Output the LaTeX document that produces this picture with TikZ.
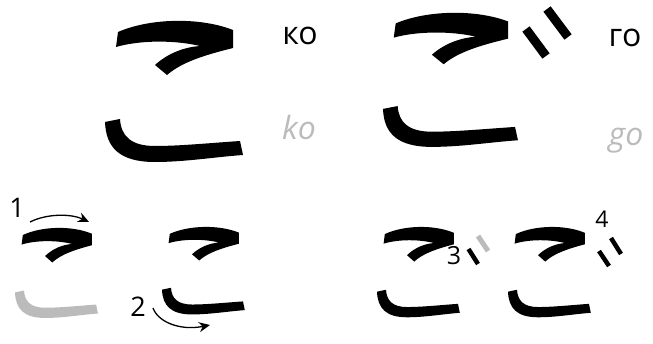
\documentclass[tikz,border=0pt]{standalone}
\usepackage{fontspec}
\setmainfont{Open Sans}
\usepackage{tikz}
\usetikzlibrary{arrows.meta}
\definecolor{faintgray}{HTML}{BBBBBB}
% strokes of the kana, drawn in the frame of the large ko
\newcommand{\koupper}[1]{\fill[#1] (118,32) .. controls (150,18) and (200,17) .. (233,30)
  -- (233,48) .. controls (205,55) and (182,62) .. (167,75) -- (155,65)
  .. controls (168,53) and (185,47) .. (200,46) .. controls (175,40) and (140,40) .. (116,47) -- cycle;}
\newcommand{\kolower}[1]{\fill[#1] (105,122) .. controls (106,148) and (120,162) .. (155,162)
  .. controls (185,162) and (215,157) .. (243,155) -- (240,141)
  .. controls (210,143) and (180,146) .. (155,146) .. controls (131,146) and (121,136) .. (120,119) -- cycle;}

\begin{document}
\begin{tikzpicture}[
  x=1pt,y=-1pt,
  kana/.style={font=\fontsize{32}{36}\selectfont,anchor=base},
  latin/.style={font=\fontsize{32}{36}\selectfont\itshape,text=faintgray,anchor=base},
  num/.style={font=\fontsize{27}{30}\selectfont,anchor=base,inner sep=0pt},
  dak/.style={line width=#1,line cap=butt},
  arr/.style={-{Stealth[length=11pt,width=10pt]},line width=1.3pt}
]
\useasboundingbox (0,0) rectangle (653,344);
% large ko and go
\koupper{black}
\kolower{black}
\begin{scope}[shift={(280.3,-7)},xscale=0.978,yscale=0.95]
  \koupper{black}
  \kolower{black}
\end{scope}
\draw[dak=9pt] (526,29) -- (546,56);
\draw[dak=9pt] (547,9) -- (568,37);
\node[kana] (kolabel) at (300,45) {ко};
\node[latin] (kolatin) at (299,140) {ko};
\node[kana] (golabel) at (625,47) {го};
\node[latin] (golatin) at (626,146) {go};
% stroke order, first and second stroke
\begin{scope}[shift={(-48.1,214.6)},xscale=0.601,yscale=0.638]
  \koupper{black}
  \kolower{faintgray}
\end{scope}
\begin{scope}[shift={(99,214)},xscale=0.6,yscale=0.62]
  \koupper{black}
  \kolower{black}
\end{scope}
\node[num] (n1) at (17,218) {1};
\coordinate (a1s) at (30,222);
\coordinate (a1e) at (89,222);
\draw[arr] (a1s) .. controls (48,213) and (72,214) .. (a1e);
\node[num] (n2) at (138,317) {2};
\coordinate (a2s) at (153,308);
\coordinate (a2e) at (210,325);
\draw[arr] (a2s) .. controls (158,322) and (180,331) .. (a2e);
% third and fourth stroke
\begin{scope}[shift={(314,213.6)},xscale=0.6,yscale=0.64]
  \koupper{black}
  \kolower{black}
\end{scope}
\draw[dak=4.5pt] (468.5,249) -- (478,264);
\draw[dak=5pt,faintgray] (478,236) -- (488,251);
\node[num,font=\fontsize{25}{28}\selectfont] (n3) at (454,265) {3};
\begin{scope}[shift={(445,213.6)},xscale=0.6,yscale=0.64]
  \koupper{black}
  \kolower{black}
\end{scope}
\draw[dak=4.5pt] (599,251) -- (609,266);
\draw[dak=4.5pt] (611,238) -- (621,254);
\node[num,font=\fontsize{23}{26}\selectfont] (n4) at (602,228) {4};
\end{tikzpicture}
\end{document}
